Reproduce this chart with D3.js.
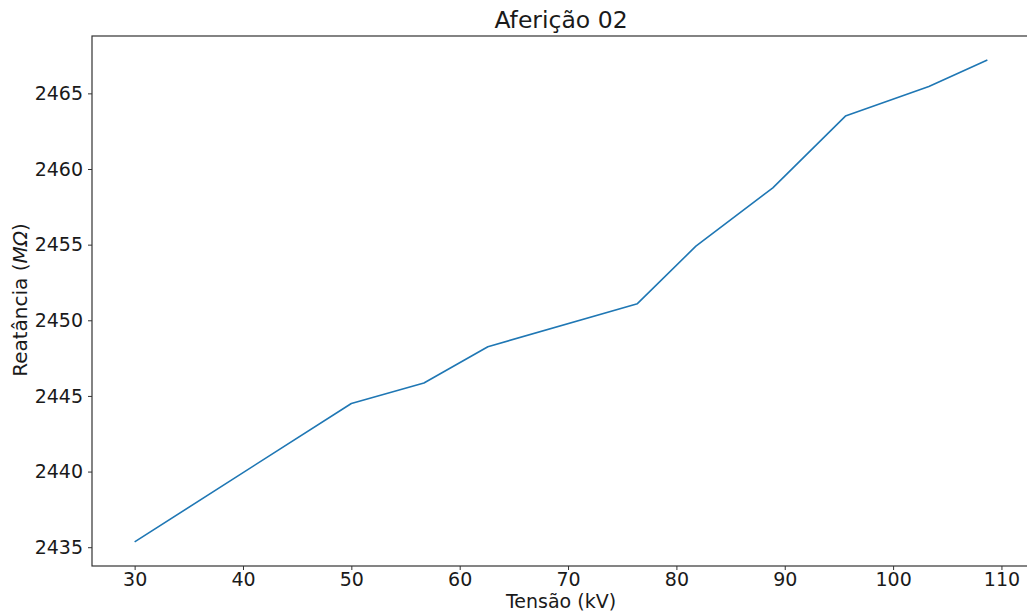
<!DOCTYPE html>
<html>
<head>
<meta charset="utf-8">
<script src="https://cdn.jsdelivr.net/npm/d3@7"></script>
<style>
  body { margin: 0; background: #fff; }
  svg { display: block; font-family: "DejaVu Sans", sans-serif; }
</style>
</head>
<body>
<div class="graph"></div>
<script>
// data
var tensao = [30, 50, 56.7, 62.6, 76.4, 81.8, 88.9, 95.6, 103.3, 108.7];
var reatancia = [2435.35, 2444.5, 2445.85, 2448.25, 2451.1, 2454.9, 2458.75, 2463.5, 2465.45, 2467.2];
var xTicks = [30, 40, 50, 60, 70, 80, 90, 100, 110];
var yTicks = [2435, 2440, 2445, 2450, 2455, 2460, 2465];

var draw = function() {
  var W = 1027, H = 614;
  var margin = {top: 36, right: -3, bottom: 48, left: 92},
      width = W - margin.left - margin.right,
      height = H - margin.top - margin.bottom;

  var data = tensao.map(function(t, i) { return {x: t, y: reatancia[i]}; });

  // matplotlib style 5% margins
  var xe = d3.extent(tensao), ye = d3.extent(reatancia);
  var xp = (xe[1] - xe[0]) * 0.05, yp = (ye[1] - ye[0]) * 0.05;

  var x = d3.scaleLinear().domain([xe[0] - xp, xe[1] + xp]).range([0, width]);
  var y = d3.scaleLinear().domain([ye[0] - yp, ye[1] + yp]).range([height, 0]);

  var svg = d3.select("div.graph").append("svg")
      .attr("width", W)
      .attr("height", H)
    .append("g")
      .attr("transform", "translate(" + margin.left + "," + margin.top + ")");

  var line = d3.line()
      .x(function(d) { return x(d.x); })
      .y(function(d) { return y(d.y); });

  svg.append("path")
      .datum(data)
      .attr("fill", "none")
      .attr("stroke", "#1f77b4")
      .attr("stroke-width", 1.6)
      .attr("stroke-linejoin", "round")
      .attr("d", line);

  // x axis
  var xAxis = svg.append("g")
      .attr("transform", "translate(0," + height + ")")
      .call(d3.axisBottom(x).tickValues(xTicks).tickSize(4).tickPadding(3));

  // y axis
  var yAxis = svg.append("g")
      .call(d3.axisLeft(y).tickValues(yTicks).tickFormat(d3.format("d")).tickSize(4).tickPadding(5));

  [xAxis, yAxis].forEach(function(a) {
    a.select(".domain").remove();
    a.selectAll("line").attr("stroke", "#333");
    a.selectAll("text")
      .attr("font-family", "DejaVu Sans, sans-serif")
      .attr("font-size", 19)
      .attr("fill", "#1a1a1a");
  });

  // spines
  svg.append("rect")
      .attr("x", 0).attr("y", 0)
      .attr("width", width).attr("height", height)
      .attr("fill", "none")
      .attr("stroke", "#333")
      .attr("stroke-width", 1.2);

  // title
  svg.append("text")
      .attr("x", width / 2)
      .attr("y", -8)
      .attr("text-anchor", "middle")
      .attr("font-size", 23.5)
      .attr("fill", "#1a1a1a")
      .text("Aferição 02");

  // axis labels
  svg.append("text")
      .attr("x", width / 2)
      .attr("y", height + 42)
      .attr("text-anchor", "middle")
      .attr("font-size", 19)
      .attr("fill", "#1a1a1a")
      .text("Tensão (kV)");

  var yl = svg.append("text")
      .attr("transform", "translate(" + (-65) + "," + (300 - margin.top) + ") rotate(-90)")
      .attr("text-anchor", "middle")
      .attr("font-size", 20)
      .attr("fill", "#1a1a1a");
  yl.append("tspan").text("Reatância (");
  yl.append("tspan").attr("font-style", "italic").text("MΩ");
  yl.append("tspan").text(")");
};

draw();
</script>
</body>
</html>
